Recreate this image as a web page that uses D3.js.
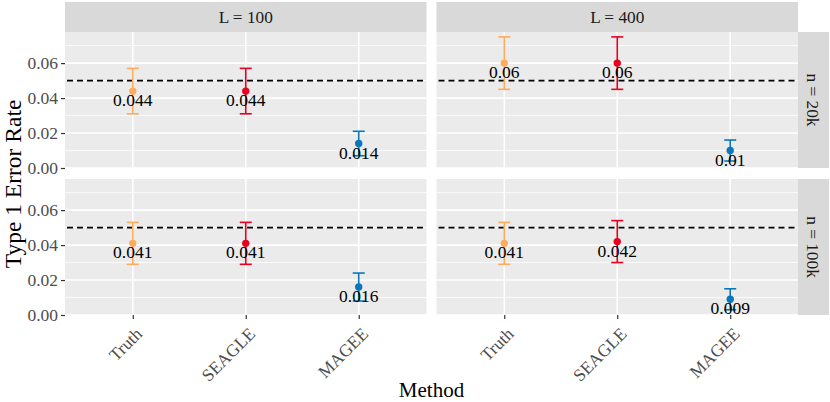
<!DOCTYPE html>
<html>
<head>
<meta charset="utf-8">
<script src="https://cdn.jsdelivr.net/npm/d3@7"></script>
<style>
  body { margin: 0; background: #fff; }
  text { font-family: "Liberation Serif", "DejaVu Serif", serif; }
</style>
</head>
<body>
<div id="chart"></div>
<script>
// facet levels and methods
const methods = ["Truth", "SEAGLE", "MAGEE"]
const colLevels = ["L = 100", "L = 400"]
const rowLevels = ["n = 20k", "n = 100k"]
const methodColors = ["#FCAC5C", "#E8001F", "#0A77B8"]

// long format rows (like the data frame behind the plot)
const rowL = ["L = 100", "L = 100", "L = 100", "L = 400", "L = 400", "L = 400",
              "L = 100", "L = 100", "L = 100", "L = 400", "L = 400", "L = 400"]
const rowN = ["n = 20k", "n = 20k", "n = 20k", "n = 20k", "n = 20k", "n = 20k",
              "n = 100k", "n = 100k", "n = 100k", "n = 100k", "n = 100k", "n = 100k"]
const rowMethod = ["Truth", "SEAGLE", "MAGEE", "Truth", "SEAGLE", "MAGEE",
                   "Truth", "SEAGLE", "MAGEE", "Truth", "SEAGLE", "MAGEE"]
const estimate = [0.044, 0.044, 0.014, 0.06, 0.06, 0.01,
                  0.041, 0.041, 0.016, 0.041, 0.042, 0.009]
const lower = [0.031, 0.031, 0.007, 0.045, 0.045, 0.004,
               0.029, 0.029, 0.008, 0.029, 0.030, 0.003]
const upper = [0.057, 0.057, 0.021, 0.075, 0.075, 0.016,
               0.053, 0.053, 0.024, 0.053, 0.054, 0.015]

const yTicks = [0, 0.02, 0.04, 0.06]
const yMinor = [0.01, 0.03, 0.05, 0.07]
const refLine = 0.05

const data = estimate.map(function(d, i) {
  return {L: rowL[i], n: rowN[i], method: rowMethod[i], est: d, lo: lower[i], hi: upper[i]}
})

const width = 830, height = 402
const plotLeft = 65, plotRight = 798, stripW = 31
const stripTop = 2, stripH = 30
const panelGapX = 10, panelGapY = 11
const panelW = (plotRight - plotLeft - panelGapX) / 2
const panelH = 136

const svg = d3.select("#chart").append("svg")
  .attr("width", width)
  .attr("height", height)

const xScale = d3.scalePoint()
  .domain(methods)
  .range([0, panelW])
  .padding(0.6)

const yScale = d3.scaleLinear()
  .domain([0, 0.0778])
  .range([panelH, 0])

const color = d3.scaleOrdinal().domain(methods).range(methodColors)

rowLevels.forEach(function(rl, ri) {
  colLevels.forEach(function(cl, ci) {
    let px = plotLeft + ci * (panelW + panelGapX)
    let py = stripTop + stripH + ri * (panelH + panelGapY)
    let g = svg.append("g").attr("transform", "translate(" + px + "," + py + ")")

    g.append("rect")
      .attr("width", panelW).attr("height", panelH)
      .attr("fill", "#EBEBEB")

    // minor grid
    g.selectAll(".minor").data(yMinor).enter().append("line")
      .attr("x1", 0).attr("x2", panelW)
      .attr("y1", d => yScale(d)).attr("y2", d => yScale(d))
      .attr("stroke", "#fff").attr("stroke-width", 0.8)

    // major grid
    g.selectAll(".major").data(yTicks).enter().append("line")
      .attr("x1", 0).attr("x2", panelW)
      .attr("y1", d => yScale(d)).attr("y2", d => yScale(d))
      .attr("stroke", "#fff").attr("stroke-width", 1.6)

    g.selectAll(".vgrid").data(methods).enter().append("line")
      .attr("x1", d => xScale(d)).attr("x2", d => xScale(d))
      .attr("y1", 0).attr("y2", panelH)
      .attr("stroke", "#fff").attr("stroke-width", 1.6)

    g.append("line")
      .attr("x1", 2).attr("x2", panelW)
      .attr("y1", yScale(refLine)).attr("y2", yScale(refLine))
      .attr("stroke", "#000").attr("stroke-width", 1.7)
      .attr("stroke-dasharray", "6,4")

    let sub = data.filter(d => d.L === cl && d.n === rl)

    let bars = g.selectAll(".bar").data(sub).enter().append("g")
      .attr("stroke", d => color(d.method))
      .attr("stroke-width", 1.6)
    bars.append("line")
      .attr("x1", d => xScale(d.method)).attr("x2", d => xScale(d.method))
      .attr("y1", d => yScale(d.lo)).attr("y2", d => yScale(d.hi))
    bars.append("line")
      .attr("x1", d => xScale(d.method) - 6).attr("x2", d => xScale(d.method) + 6)
      .attr("y1", d => yScale(d.lo)).attr("y2", d => yScale(d.lo))
    bars.append("line")
      .attr("x1", d => xScale(d.method) - 6).attr("x2", d => xScale(d.method) + 6)
      .attr("y1", d => yScale(d.hi)).attr("y2", d => yScale(d.hi))

    g.selectAll(".pt").data(sub).enter().append("circle")
      .attr("cx", d => xScale(d.method)).attr("cy", d => yScale(d.est))
      .attr("r", 3.7)
      .attr("fill", d => color(d.method))

    g.selectAll(".lab").data(sub).enter().append("text")
      .attr("x", d => xScale(d.method)).attr("y", d => yScale(d.est) + 15)
      .attr("text-anchor", "middle")
      .attr("font-size", 17.5)
      .attr("fill", "#000")
      .text(d => String(d.est))

    // y axis on the left column only
    if (ci === 0) {
      let yAxis = d3.axisLeft(yScale).tickValues(yTicks).tickSize(4).tickPadding(3)
        .tickFormat(d3.format(".2f"))
      let ax = g.append("g").call(yAxis)
      ax.select(".domain").remove()
      ax.selectAll(".tick line").attr("stroke", "#333").attr("stroke-width", 1.2)
      ax.selectAll(".tick text").attr("fill", "#4D4D4D").attr("font-size", 17.5)
        .attr("font-family", "Liberation Serif, serif")
    }

    // x axis on the bottom row only
    if (ri === rowLevels.length - 1) {
      let xAxis = d3.axisBottom(xScale).tickSize(4).tickPadding(3)
      let ax = g.append("g").attr("transform", "translate(0," + panelH + ")").call(xAxis)
      ax.select(".domain").remove()
      ax.selectAll(".tick line").attr("stroke", "#333").attr("stroke-width", 1.2)
      ax.selectAll(".tick text")
        .attr("fill", "#4D4D4D").attr("font-size", 17.5)
        .attr("font-family", "Liberation Serif, serif")
        .attr("text-anchor", "end")
        .attr("dy", null)
        .attr("transform", "translate(10,20) rotate(-45)")
        .attr("y", 0)
    }

    // top strips
    if (ri === 0) {
      g.append("rect")
        .attr("y", -stripH).attr("width", panelW).attr("height", stripH)
        .attr("fill", "#D9D9D9")
      g.append("text")
        .attr("x", panelW / 2).attr("y", -stripH / 2)
        .attr("dy", "0.35em")
        .attr("text-anchor", "middle").attr("font-size", 17.3).attr("fill", "#1A1A1A")
        .text(cl)
    }

    // right strips
    if (ci === colLevels.length - 1) {
      g.append("rect")
        .attr("x", panelW).attr("width", stripW).attr("height", panelH)
        .attr("fill", "#D9D9D9")
      g.append("text")
        .attr("transform", "translate(" + (panelW + stripW / 2) + "," + (panelH / 2) + ") rotate(90)")
        .attr("dy", "0.35em")
        .attr("text-anchor", "middle").attr("font-size", 17.3).attr("fill", "#1A1A1A")
        .text(rl)
    }
  })
})

// axis titles
svg.append("text")
  .attr("x", (plotLeft + plotRight) / 2).attr("y", 397)
  .attr("text-anchor", "middle").attr("font-size", 21).attr("fill", "#000")
  .text("Method")

svg.append("text")
  .attr("transform", "translate(21,184) rotate(-90)")
  .attr("text-anchor", "middle").attr("font-size", 23.5).attr("fill", "#000")
  .text("Type 1 Error Rate")
</script>
</body>
</html>
